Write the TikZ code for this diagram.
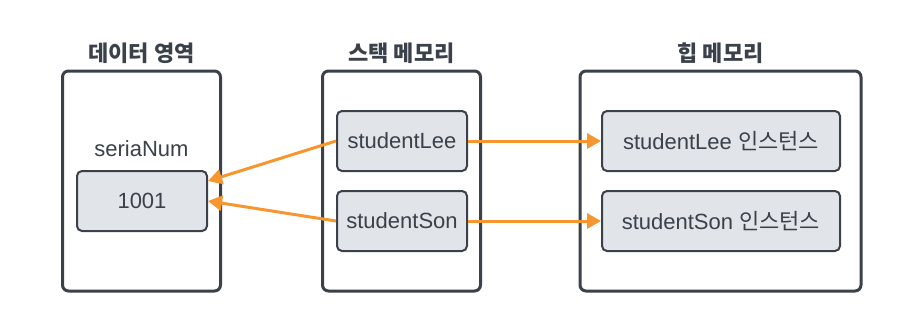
\documentclass[tikz,border=0pt]{standalone}
\usepackage{fontspec}
\setmainfont{Liberation Sans}
\newfontfamily\kr{Noto Sans CJK KR}
\usetikzlibrary{arrows.meta}
\definecolor{ink}{HTML}{3A414A}
\definecolor{boxfill}{HTML}{E1E4E8}
\definecolor{arr}{HTML}{F7962F}
\begin{document}
\begin{tikzpicture}[x=1pt,y=-1pt,
  container/.style={draw=ink, line width=3pt, rounded corners=6pt, fill=white, inner sep=0pt},
  cell/.style={draw=ink, line width=2pt, rounded corners=5pt, fill=boxfill, inner sep=0pt, text=ink, font=\fontsize{22}{26}\selectfont},
  title/.style={text=ink, font=\kr\bfseries\fontsize{22}{26}\selectfont},
  lbl/.style={text=ink, font=\fontsize{22}{26}\selectfont},
  link/.style={draw=arr, line width=3pt, -{Triangle[length=14pt,width=15pt]}}]
\useasboundingbox (0,0) rectangle (924,327);
% containers
\node[container, minimum width=158pt, minimum height=220pt] (data) at (141.5,181) {};
\node[container, minimum width=158pt, minimum height=220pt] (stack) at (401.5,181) {};
\node[container, minimum width=281pt, minimum height=220pt] (heap) at (720.5,181) {};
% titles
\node[title] (tdata) at (141.5,53) {데이터 영역};
\node[title] (tstack) at (401.5,53) {스택 메모리};
\node[title] (theap) at (720.5,53) {힙 메모리};
% data area
\node[lbl] (sn) at (141.5,149) {seriaNum};
\node[cell, minimum width=130pt, minimum height=60pt] (num) at (142,201) {1001};
% stack
\node[cell, minimum width=130pt, minimum height=60pt] (lee) at (402,141) {studentLee};
\node[cell, minimum width=130pt, minimum height=60pt] (son) at (402,221) {studentSon};
% heap
\node[cell, minimum width=238pt, minimum height=60pt] (ilee) at (721,141) {studentLee {\kr 인스턴스}};
\node[cell, minimum width=238pt, minimum height=60pt] (ison) at (721,221) {studentSon {\kr 인스턴스}};
% connectors
\coordinate (numA) at ([yshift=20pt]num.east);
\coordinate (numB) at (num.east);
\draw[link] (lee.west) -- (numA);
\draw[link] (son.west) -- (numB);
\draw[link] (lee.east) -- (ilee.west);
\draw[link] (son.east) -- (ison.west);
\end{tikzpicture}
\end{document}
